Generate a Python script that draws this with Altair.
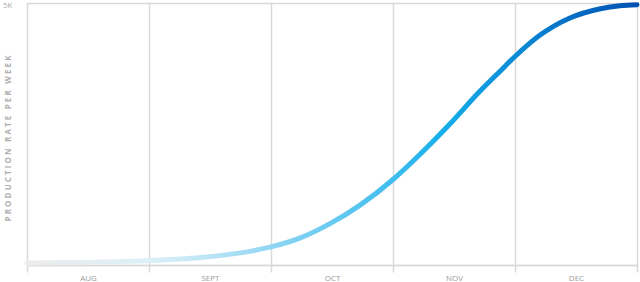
import altair as alt
import pandas as pd

months = ["AUG", "SEPT", "OCT", "NOV", "DEC"]
t_pos = [0.0, 0.6, 1.0, 1.42, 1.75, 2.0, 2.24, 2.48, 2.73, 3.0, 3.22, 3.47,
         3.71, 3.88, 4.0, 4.2, 4.45, 4.7, 4.86, 5.0]
rate = [38, 55, 84, 143, 231, 345, 517, 784, 1143, 1632, 2109, 2700,
        3311, 3704, 3979, 4378, 4714, 4891, 4949, 4968]

df = pd.DataFrame({"t": t_pos, "rate": rate})

grid_c = "#d9d9d9"
month_arr = "[" + ",".join("'%s'" % m for m in months) + "]"

gradient = alt.Gradient(
    gradient="linear",
    x1=0, x2=1, y1=0, y2=0,
    stops=[
        alt.GradientStop(color="#ececec", offset=0.0),
        alt.GradientStop(color="#dcf0f8", offset=0.2),
        alt.GradientStop(color="#c2e7f6", offset=0.28),
        alt.GradientStop(color="#90d6f3", offset=0.40),
        alt.GradientStop(color="#63c9f0", offset=0.51),
        alt.GradientStop(color="#3fbdee", offset=0.60),
        alt.GradientStop(color="#16afea", offset=0.68),
        alt.GradientStop(color="#0a8cd7", offset=0.80),
        alt.GradientStop(color="#0675c9", offset=0.87),
        alt.GradientStop(color="#0050b4", offset=1.0),
    ],
)

sp = "\u2009\u200a"
title_words = ["PRODUCTION", "RATE", "PER", "WEEK"]
title_text = (sp * 3).join(sp.join(list(w)) for w in title_words)

x_axis = alt.Axis(
    values=[i * 0.5 for i in range(11)],
    grid=True,
    gridColor=grid_c,
    gridWidth=1.5,
    gridOpacity={"condition": {"test": "datum.value % 1 === 0", "value": 1}, "value": 0},
    ticks=True,
    tickSize=7,
    tickColor=grid_c,
    tickWidth=1.5,
    tickOpacity={"condition": {"test": "datum.value % 1 === 0", "value": 1}, "value": 0},
    domain=True,
    domainColor=grid_c,
    domainWidth=1.5,
    labelExpr="datum.value % 1 ? " + month_arr + "[floor(datum.value)] : ''",
    labelFont="Open Sans",
    labelFontSize=8,
    labelColor="#9a9a9a",
    labelPadding=2,
    labelOverlap=False,
    labelFlush=False,
    title=None,
)

y_axis = alt.Axis(
    values=[0, 5000],
    grid=True,
    gridColor=grid_c,
    gridWidth=1.5,
    ticks=False,
    domain=False,
    labelExpr="datum.value == 5000 ? '5K' : ''",
    labelFont="Open Sans",
    labelFontSize=8,
    labelColor="#aaaaaa",
    labelPadding=15,
    labelBaseline="middle",
    labelOffset=2,
    title=title_text,
    titleFont="Open Sans",
    titleFontSize=8,
    titleFontWeight="bold",
    titleColor="#b0b0b0",
    titleAngle=270,
    titleAlign="center",
    titleBaseline="middle",
    titleX=-19,
    titleY=135,
)

chart = (
    alt.Chart(df)
    .mark_line(interpolate="monotone", strokeWidth=5, strokeCap="round", color=gradient)
    .encode(
        x=alt.X("t:Q", scale=alt.Scale(domain=[0, 5], nice=False, zero=False), axis=x_axis),
        y=alt.Y("rate:Q", scale=alt.Scale(domain=[0, 5000], nice=False), axis=y_axis),
    )
    .properties(
        width=610,
        height=262,
        autosize=alt.AutoSizeParams(type="none"),
        padding={"left": 27, "top": 3, "right": 3, "bottom": 17},
    )
    .configure_view(stroke=None)
    .configure(background="white")
)

chart.save("out.html", embed_options={"renderer": "svg", "actions": False})
